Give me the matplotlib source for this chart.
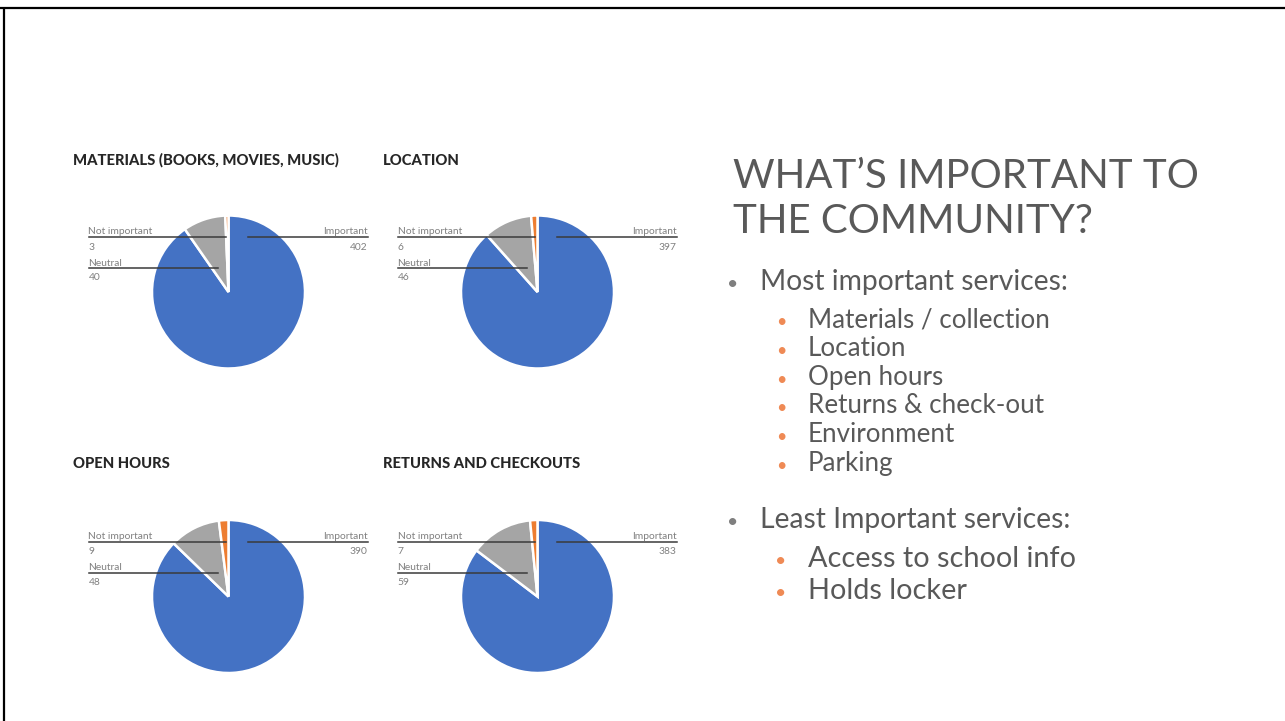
import matplotlib
matplotlib.use("Agg")
import matplotlib.pyplot as plt

# ---------------- data ----------------
chart_titles = ["MATERIALS (BOOKS, MOVIES, MUSIC)", "LOCATION", "OPEN HOURS", "RETURNS AND CHECKOUTS"]
categories = ["Important", "Neutral", "Not important"]
important = [402, 397, 390, 383]
neutral = [40, 46, 48, 59]
not_important = [3, 6, 9, 7]

slide_title = ["WHAT\u2019S IMPORTANT TO", "THE COMMUNITY?"]
most_header = "Most important services:"
most_items = ["Materials / collection", "Location", "Open hours", "Returns & check-out", "Environment", "Parking"]
least_header = "Least Important services:"
least_items = ["Access to school info", "Holds locker"]

# ---------------- style ----------------
C_BLUE, C_GRAY, C_ORANGE = "#4472C4", "#A5A5A5", "#ED7D31"
TXT = "#595959"
BUL_OR = "#EF8A55"
FONT = ["Lato", "DejaVu Sans"]

W, H = 1285, 721
fig = plt.figure(figsize=(W / 100, H / 100), dpi=100)
ax = fig.add_axes([0, 0, 1, 1])


def Y(y):
    return H - y


# pie layout (pixel centres, y from top)
centres = [(228.5, 292), (537.5, 292), (228.5, 596.5), (537.5, 596.5)]
R = 76.5
head_x = [73, 383, 73, 383]
head_y = [165, 165, 468, 468]

for i in range(4):
    cx, cy = centres[i]
    vals = [important[i], neutral[i], not_important[i]]
    ax.pie(vals, colors=[C_BLUE, C_GRAY, C_ORANGE], startangle=90, counterclock=False,
           center=(cx, Y(cy)), radius=R, frame=True,
           wedgeprops=dict(edgecolor="white", linewidth=1.8))
    ax.text(head_x[i], Y(head_y[i]), chart_titles[i], fontsize=10.6, fontweight="black",
            color="#262626", family=FONT, va="baseline", ha="left")
    lc = "#3a3a3a"
    lw = 1.1
    lab_c = "#808080"
    fs = 7.4
    # Not important (left top)
    ax.plot([cx - 140, cx - 3], [Y(cy - 55), Y(cy - 55)], color=lc, lw=lw)
    ax.text(cx - 140, Y(cy - 57.5), categories[2], fontsize=fs, color=lab_c, family=FONT,
            va="baseline", ha="left")
    ax.text(cx - 140, Y(cy - 42), str(not_important[i]), fontsize=fs, color=lab_c, family=FONT,
            va="baseline", ha="left")
    # Neutral
    ax.plot([cx - 140, cx - 11], [Y(cy - 24), Y(cy - 24)], color=lc, lw=lw)
    ax.text(cx - 140, Y(cy - 26.5), categories[1], fontsize=fs, color=lab_c, family=FONT,
            va="baseline", ha="left")
    ax.text(cx - 140, Y(cy - 11.5), str(neutral[i]), fontsize=fs, color=lab_c, family=FONT,
            va="baseline", ha="left")
    # Important (right)
    ax.plot([cx + 19, cx + 139], [Y(cy - 55), Y(cy - 55)], color=lc, lw=lw)
    ax.text(cx + 139, Y(cy - 57.5), categories[0], fontsize=fs, color=lab_c, family=FONT,
            va="baseline", ha="right")
    ax.text(cx + 139, Y(cy - 42), str(important[i]), fontsize=fs, color=lab_c, family=FONT,
            va="baseline", ha="right")

# ---------------- right-hand text ----------------
ax.text(733, Y(188), slide_title[0], fontsize=29, color=TXT, family=FONT, fontweight="normal",
        va="baseline", ha="left")
ax.text(733, Y(233), slide_title[1], fontsize=29, color=TXT, family=FONT, fontweight="normal",
        va="baseline", ha="left")

ax.text(733, Y(290), "\u2022", fontsize=14, color="#7f7f7f", family=FONT, va="baseline", ha="center")
ax.text(760, Y(290), most_header, fontsize=20.3, color=TXT, family=FONT, va="baseline", ha="left")
y0, dy = 327.3, 28.7
for k, item in enumerate(most_items):
    yb = y0 + k * dy
    ax.text(781, Y(yb), "\u2022", fontsize=13, color=BUL_OR, family=FONT, va="baseline", ha="center")
    ax.text(808, Y(yb), item, fontsize=18.7, color=TXT, family=FONT, va="baseline", ha="left")

ax.text(733, Y(528), "\u2022", fontsize=14, color="#7f7f7f", family=FONT, va="baseline", ha="center")
ax.text(760, Y(528), least_header, fontsize=20.3, color=TXT, family=FONT, va="baseline", ha="left")
for k, item in enumerate(least_items):
    yb = 567.3 + k * 32
    ax.text(781, Y(yb), "\u2022", fontsize=14, color=BUL_OR, family=FONT, va="baseline", ha="center")
    ax.text(808, Y(yb), item, fontsize=20.8, color=TXT, family=FONT, va="baseline", ha="left")

# slide border (top and left edges)
ax.plot([0, W], [Y(7.5), Y(7.5)], color="black", lw=1.6, solid_capstyle="butt")
ax.plot([3.5, 3.5], [Y(7.5), 0], color="black", lw=1.6, solid_capstyle="butt")

ax.set_xlim(0, W)
ax.set_ylim(0, H)
ax.set_aspect("equal")
ax.axis("off")

fig.savefig("out.png", dpi=100, facecolor="white")
